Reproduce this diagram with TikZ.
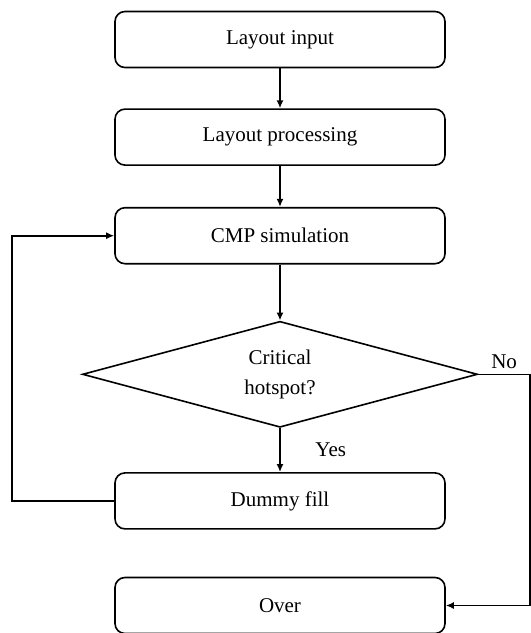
\documentclass[tikz,border=0pt]{standalone}
\usepackage{fontspec}
\setmainfont{Liberation Serif}
\usetikzlibrary{shapes.geometric, arrows.meta, positioning, calc}
\tikzset{
  stage/.style  = {rectangle, rounded corners=5pt, draw, thick,
                   minimum width=165pt, minimum height=28pt, align=center,
                   font=\fontsize{10.5}{12.5}\selectfont},
  query/.style  = {diamond, draw, thick, aspect=3.7, inner sep=0pt,
                   minimum width=197.5pt, minimum height=53pt, align=center,
                   font=\fontsize{10.5}{15}\selectfont},
  flow/.style   = {-{Latex[length=4pt,width=3.5pt]}, thick},
  lbl/.style    = {font=\fontsize{10.5}{12.5}\selectfont},
}
\begin{document}
\begin{tikzpicture}
  \useasboundingbox (0,0) rectangle (265.5pt,-316.5pt);
  \node[stage] (input) at (140pt,-19.75pt) {Layout input};
  \node[stage, below=20pt of input] (proc) {Layout processing};
  \node[stage, below=20.5pt of proc] (cmp) {CMP simulation};
  \node[query, below=28pt of cmp] (hot) {Critical\\hotspot?};
  \node[stage, below=22pt of hot] (fill) {Dummy fill};
  \node[stage, below=23.5pt of fill] (over) {Over};
  \coordinate (lft) at (6pt,0);
  \coordinate (rgt) at (265pt,0);

  \draw[flow] (input) -- (proc);
  \draw[flow] (proc) -- (cmp);
  \draw[flow] (cmp) -- (hot);
  \draw[flow] (hot) -- node[lbl, right=14pt] {Yes} (fill);
  \draw[flow] (fill.west) -- (fill.west -| lft) |- (cmp.west);
  \draw[flow] (hot.east) -- node[lbl, above=-1pt] {No} (hot.east -| rgt) |- (over.east);
\end{tikzpicture}
\end{document}
